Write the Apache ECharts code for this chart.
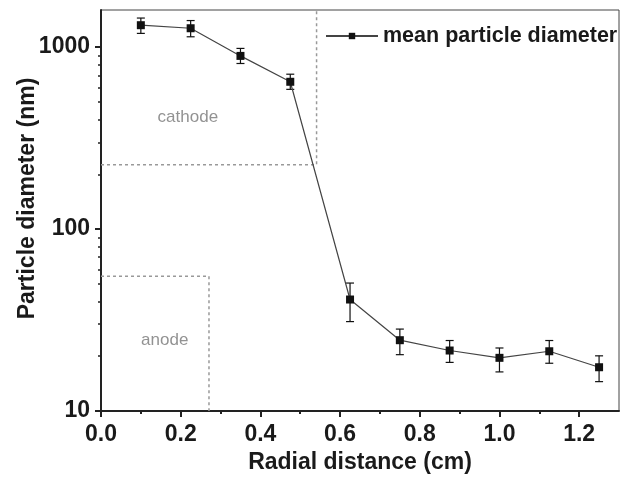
<!DOCTYPE html>
<html>
<head>
<meta charset="utf-8">
<script src="https://cdn.jsdelivr.net/npm/echarts@6/dist/echarts.min.js"></script>
<style>
  html, body { margin: 0; padding: 0; background: #fff; }
  #chart { width: 620px; height: 483px; }
</style>
</head>
<body>
<div id="chart"></div>
<script>
  // radial distance (cm) and mean particle diameter (nm)
  const radial = [0.1, 0.225, 0.35, 0.475, 0.625, 0.75, 0.875, 1.0, 1.125, 1.25];
  const diameter = [1320, 1270, 895, 645, 41, 24.5, 21.5, 19.6, 21.3, 17.4];
  const errLow = [1190, 1140, 813, 586, 31, 20.4, 18.5, 16.4, 18.3, 14.5];
  const errHigh = [1445, 1400, 984, 710, 50.5, 28.2, 24.4, 22.2, 24.4, 20.1];

  // region borders (dotted)
  const cathodeEdge = [[0, 226], [0.541, 226], [0.541, 1600]];
  const anodeEdge = [[0, 55], [0.271, 55], [0.271, 10]];
  const regionLabels = [
    { name: 'cathode', value: [0.218, 410] },
    { name: 'anode', value: [0.16, 24.4] },
  ];

  // tick values
  const xMajor = [0, 0.2, 0.4, 0.6, 0.8, 1.0, 1.2];
  const xMinor = [0.1, 0.3, 0.5, 0.7, 0.9, 1.1];
  const yMajor = [10, 100, 1000];
  const yMinor = [20, 30, 40, 50, 60, 70, 80, 90, 200, 300, 400, 500, 600, 700, 800, 900];

  const font = 'Liberation Sans, Arial, sans-serif';
  const chart = echarts.init(document.getElementById('chart'));

  const xCommon = { type: 'value', min: 0, max: 1.3, position: 'bottom', offset: 0, splitLine: { show: false } };
  const yCommon = { type: 'log', logBase: 10, min: 10, max: 1600, position: 'left', offset: 0, splitLine: { show: false } };

  const option = {
    animation: false,
    grid: {
      left: 101, right: 1, top: 10, bottom: 72,
      outerBoundsMode: 'none',
      show: true, borderColor: '#444', borderWidth: 1,
    },
    legend: {
      left: 320, top: 20,
      itemWidth: 52, itemHeight: 8,
      itemGap: 6,
      data: ['mean particle diameter'],
      textStyle: { fontFamily: font, fontSize: 21.5, fontWeight: 'bold', color: '#1a1a1a' },
    },
    xAxis: [
      Object.assign({}, xCommon, {
        name: 'Radial distance (cm)',
        nameLocation: 'middle',
        nameGap: 40,
        nameMoveOverlap: false,
        nameTextStyle: { fontFamily: font, fontSize: 23, fontWeight: 'bold', color: '#1a1a1a' },
        axisLine: { lineStyle: { color: '#222', width: 2 } },
        axisTick: { customValues: xMajor, length: 6, lineStyle: { color: '#222', width: 2 } },
        axisLabel: {
          customValues: xMajor, margin: 12,
          fontFamily: font, fontSize: 23, fontWeight: 'bold', color: '#1a1a1a',
          formatter: (v) => v.toFixed(1),
        },
      }),
      Object.assign({}, xCommon, {
        axisLine: { show: false },
        axisTick: { customValues: xMinor, length: 3, lineStyle: { color: '#222', width: 2 } },
        axisLabel: { show: false },
      }),
    ],
    yAxis: [
      Object.assign({}, yCommon, {
        name: 'Particle diameter (nm)',
        nameLocation: 'middle',
        nameGap: 62,
        nameMoveOverlap: false,
        nameTextStyle: { fontFamily: font, fontSize: 23, fontWeight: 'bold', color: '#1a1a1a', padding: [0, 0, 0, 24] },
        axisLine: { show: true, lineStyle: { color: '#222', width: 2 } },
        axisTick: { customValues: yMajor, length: 6, lineStyle: { color: '#222', width: 2 } },
        axisLabel: {
          customValues: yMajor, margin: 11,
          fontFamily: font, fontSize: 23, fontWeight: 'bold', color: '#1a1a1a',
          formatter: (v) => String(v),
        },
      }),
      Object.assign({}, yCommon, {
        axisLine: { show: false },
        axisTick: { customValues: yMinor, length: 3, lineStyle: { color: '#222', width: 1.5 } },
        axisLabel: { show: false },
      }),
    ],
    series: [
      {
        name: 'cathode-edge',
        type: 'line',
        data: cathodeEdge,
        symbol: 'none',
        silent: true,
        lineStyle: { color: '#999', width: 1.5, type: [3, 3] },
      },
      {
        name: 'anode-edge',
        type: 'line',
        data: anodeEdge,
        symbol: 'none',
        silent: true,
        lineStyle: { color: '#999', width: 1.5, type: [3, 3] },
      },
      {
        name: 'regions',
        type: 'scatter',
        data: regionLabels,
        symbolSize: 0,
        silent: true,
        label: {
          show: true, position: 'inside', formatter: '{b}',
          fontFamily: font, fontSize: 17, color: '#777',
        },
      },
      {
        name: 'error',
        type: 'custom',
        data: radial.map((x, i) => [x, errLow[i], errHigh[i]]),
        silent: true,
        z: 3,
        renderItem: function (params, api) {
          const lo = api.coord([api.value(0), api.value(1)]);
          const hi = api.coord([api.value(0), api.value(2)]);
          const cap = 4;
          const style = { stroke: '#111', lineWidth: 1.2 };
          return {
            type: 'group',
            children: [
              { type: 'line', shape: { x1: lo[0], y1: lo[1], x2: hi[0], y2: hi[1] }, style },
              { type: 'line', shape: { x1: lo[0] - cap, y1: lo[1], x2: lo[0] + cap, y2: lo[1] }, style },
              { type: 'line', shape: { x1: hi[0] - cap, y1: hi[1], x2: hi[0] + cap, y2: hi[1] }, style },
            ],
          };
        },
      },
      {
        name: 'mean particle diameter',
        type: 'line',
        data: radial.map((x, i) => [x, diameter[i]]),
        symbol: 'rect',
        symbolSize: 8,
        z: 4,
        itemStyle: { color: '#111' },
        lineStyle: { color: '#444', width: 1.2 },
      },
    ],
  };

  chart.setOption(option);
</script>
</body>
</html>
